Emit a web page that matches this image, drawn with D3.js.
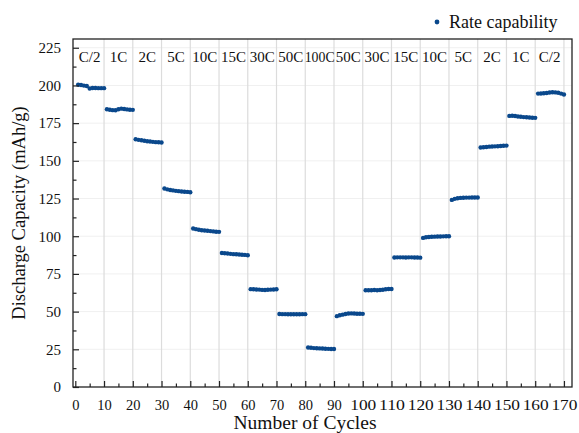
<!DOCTYPE html>
<html>
<head>
<meta charset="utf-8">
<script src="https://cdn.jsdelivr.net/npm/d3@7"></script>
<style>
  html, body { margin: 0; padding: 0; background: #fff; }
  svg { display: block; }
  text { font-family: "Liberation Serif", "Times New Roman", serif; fill: #111; }
</style>
</head>
<body>
<svg id="chart" width="579" height="433"></svg>
<script>
// Discharge capacity (mAh/g) for each 10-cycle block, cycles 1..170
const rateLabels = ["C/2","1C","2C","5C","10C","15C","30C","50C","100C","50C","30C","15C","10C","5C","2C","1C","C/2"];
const blockValues = [
  [200.5, 200.3, 199.9, 199.6, 198.0, 198.3, 198.3, 198.2, 198.2, 198.2],
  [184.2, 183.9, 183.6, 183.5, 184.2, 184.6, 184.4, 184.1, 183.9, 183.8],
  [164.3, 163.9, 163.6, 163.3, 163.0, 162.8, 162.6, 162.4, 162.3, 162.2],
  [131.6, 131.1, 130.7, 130.4, 130.1, 129.9, 129.7, 129.5, 129.4, 129.2],
  [105.1, 104.7, 104.3, 104.0, 103.8, 103.6, 103.4, 103.2, 103.0, 102.9],
  [88.9, 88.7, 88.5, 88.3, 88.1, 88.0, 87.9, 87.7, 87.6, 87.4],
  [64.9, 64.8, 64.7, 64.6, 64.4, 64.3, 64.5, 64.6, 64.7, 64.8],
  [48.4, 48.3, 48.3, 48.2, 48.2, 48.2, 48.2, 48.2, 48.3, 48.3],
  [26.2, 26.0, 25.8, 25.7, 25.6, 25.5, 25.4, 25.3, 25.2, 25.2],
  [47.0, 47.6, 48.0, 48.4, 48.7, 48.8, 48.7, 48.6, 48.6, 48.5],
  [64.2, 64.2, 64.2, 64.3, 64.2, 64.3, 64.5, 64.8, 65.0, 65.0],
  [85.9, 86.0, 86.0, 86.0, 85.9, 86.0, 86.0, 85.9, 85.9, 85.8],
  [98.9, 99.3, 99.5, 99.6, 99.7, 99.8, 99.8, 99.9, 100.0, 100.0],
  [124.1, 124.8, 125.2, 125.4, 125.5, 125.6, 125.6, 125.7, 125.7, 125.7],
  [158.8, 159.0, 159.2, 159.4, 159.5, 159.6, 159.7, 159.8, 160.0, 160.1],
  [179.8, 179.9, 179.7, 179.4, 179.2, 179.0, 178.9, 178.7, 178.6, 178.5],
  [194.6, 194.7, 194.8, 195.0, 195.3, 195.5, 195.4, 195.2, 194.6, 194.0]
];
const xTicks = d3.range(0, 171, 10);
const yTicks = d3.range(0, 226, 25);
const legendLabel = "Rate capability";

const points = [];
blockValues.forEach((block, b) => block.forEach((v, i) => points.push({ cycle: b * 10 + i + 1, value: v })));

const svg = d3.select("#chart");
const plot = { left: 73, right: 572, top: 39, bottom: 387 };
const x = d3.scaleLinear().domain([-0.8, 172.8]).range([plot.left, plot.right]);
const y = d3.scaleLinear().domain([0, 230.8]).range([plot.bottom, plot.top]);
const blue = "#0a488c";

// Horizontal guide lines
svg.append("g").selectAll("line").data(yTicks.filter(d => d > 0)).join("line")
  .attr("x1", plot.left).attr("x2", plot.right)
  .attr("y1", d => y(d)).attr("y2", d => y(d))
  .attr("stroke", "#f0f0f0").attr("stroke-width", 1);

// Vertical lines separating the rate blocks
svg.append("g").selectAll("line").data(xTicks.filter(d => d > 0)).join("line")
  .attr("x1", d => x(d)).attr("x2", d => x(d))
  .attr("y1", plot.top).attr("y2", plot.bottom)
  .attr("stroke", "#dcdcdc").attr("stroke-width", 1.2);

// Rate labels in each block
svg.append("g").selectAll("text").data(rateLabels).join("text")
  .attr("x", (d, i) => x(i * 10 + 5))
  .attr("y", 62)
  .attr("text-anchor", "middle")
  .attr("font-size", 15)
  .attr("textLength", d => d === "100C" ? 30 : null)
  .attr("lengthAdjust", "spacingAndGlyphs")
  .text(d => d);

// Data points
svg.append("g").selectAll("circle").data(points).join("circle")
  .attr("cx", d => x(d.cycle)).attr("cy", d => y(d.value))
  .attr("r", 2.2).attr("fill", blue);

// Bottom axis with inward ticks
const xAxis = svg.append("g").attr("transform", `translate(0,${plot.bottom})`)
  .call(d3.axisBottom(x).tickValues(xTicks).tickSizeInner(-6).tickSizeOuter(0).tickPadding(13));
xAxis.selectAll("text").attr("font-size", 14.5).style("font-family", "Liberation Serif, serif").attr("fill", "#111")
  .attr("textLength", d => d >= 100 ? 26 : null).attr("lengthAdjust", "spacingAndGlyphs");
xAxis.select(".domain").remove();
svg.append("g").attr("transform", `translate(0,${plot.bottom})`)
  .call(d3.axisBottom(x).tickValues(d3.range(5, 171, 10)).tickSize(-3.5).tickFormat(""))
  .select(".domain").remove();

// Left axis with inward ticks
const yAxis = svg.append("g").attr("transform", `translate(${plot.left},0)`)
  .call(d3.axisLeft(y).tickValues(yTicks).tickSizeInner(-6).tickSizeOuter(0).tickPadding(12));
yAxis.selectAll("text").attr("font-size", 15).style("font-family", "Liberation Serif, serif").attr("fill", "#111");
yAxis.select(".domain").remove();
svg.append("g").attr("transform", `translate(${plot.left},0)`)
  .call(d3.axisLeft(y).tickValues(d3.range(12.5, 226, 25)).tickSize(-3.5).tickFormat(""))
  .select(".domain").remove();
svg.selectAll(".tick line").attr("stroke", "#222").attr("stroke-width", 1.2);

// Frame
svg.append("rect")
  .attr("x", plot.left).attr("y", plot.top)
  .attr("width", plot.right - plot.left).attr("height", plot.bottom - plot.top)
  .attr("fill", "none").attr("stroke", "#222").attr("stroke-width", 1.3);

// Axis titles
svg.append("text").attr("x", 305).attr("y", 429).attr("text-anchor", "middle")
  .attr("font-size", 19.5).text("Number of Cycles");
svg.append("text").attr("transform", "translate(25,213) rotate(-90)").attr("text-anchor", "middle")
  .attr("font-size", 18.5).text("Discharge Capacity (mAh/g)");

// Legend
const legend = svg.append("g");
legend.append("circle").attr("cx", 437).attr("cy", 22).attr("r", 2.4).attr("fill", blue);
legend.append("text").attr("x", 449).attr("y", 28).attr("font-size", 18).text(legendLabel);
</script>
</body>
</html>
